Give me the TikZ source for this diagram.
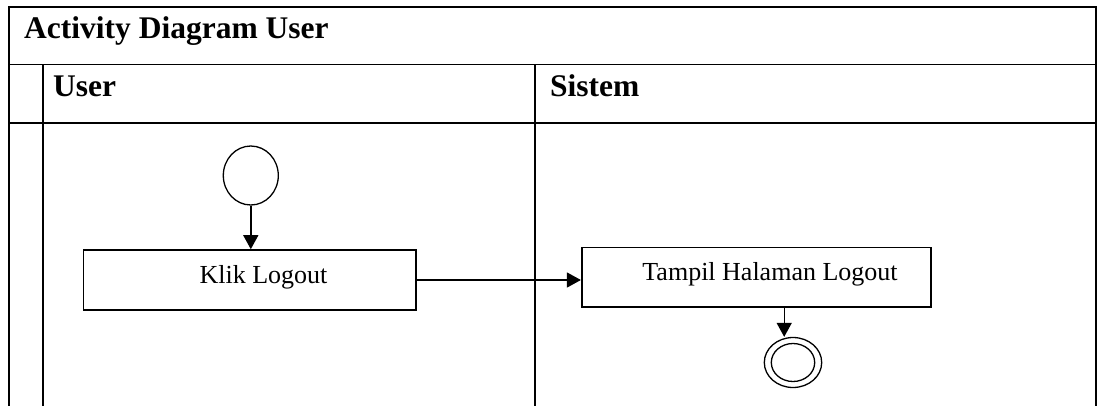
\documentclass[tikz,border=0pt]{standalone}
\usepackage{fontspec}
\setmainfont{Liberation Serif}
\usetikzlibrary{shapes.geometric,arrows.meta}
\tikzset{
  tline/.style={line width=1.8pt},
  hdr/.style={font=\fontsize{31.5}{36}\selectfont\bfseries, inner sep=0pt, anchor=base west},
  actbox/.style={draw, line width=1.6pt, minimum width=332.7pt, minimum height=60pt, inner sep=0pt,
    font=\fontsize{26}{30}\selectfont, text height=18pt, text depth=12pt},
  arr/.style={line width=1.4pt, -{Triangle[length=14pt,width=15pt]}},
  initnode/.style={ellipse, draw, line width=1.3pt, minimum width=55pt, minimum height=59pt, inner sep=0pt},
  finouter/.style={ellipse, draw, line width=1.3pt, minimum width=57.4pt, minimum height=50pt, inner sep=0pt},
  fininner/.style={ellipse, draw, line width=1.3pt, minimum width=43.4pt, minimum height=38pt, inner sep=0pt}
}
\begin{document}
\begin{tikzpicture}[x=1pt,y=-1pt]
\useasboundingbox (0,0) rectangle (1097,405);
% table frame
\draw[tline] (8.7,408) -- (8.7,6.7) -- (1095.7,6.7) -- (1095.7,408);
\draw[tline] (8.7,64.5) -- (1095.7,64.5);
\draw[tline] (8.7,122.7) -- (1095.7,122.7);
\draw[tline] (42.7,64.5) -- (42.7,408);
\draw[tline] (535,64.5) -- (535,408);
% headers
\node[hdr] (title) at (24,38) {Activity Diagram User};
\node[hdr] (huser) at (53,96.7) {User};
\node[hdr] (hsis) at (550,96.7) {Sistem};
% activity nodes
\node[initnode] (start) at (250.8,175.5) {};
\node[actbox] (klik) at (249.7,280) {\hspace*{27.6pt}Klik Logout};
\node[actbox, minimum width=349pt, minimum height=59.4pt] (tampil) at (756.2,277) {\hspace*{27.6pt}Tampil Halaman Logout};
\node[finouter] (endo) at (793,362.5) {};
\node[fininner] (endi) at (793,362.5) {};
% connectors
\draw[arr] (start.south) -- (start.south |- klik.north);
\draw[arr] (klik.east) -- (klik.east -| tampil.west);
\draw[arr] ([xshift=28pt]tampil.south) -- ([xshift=28pt]tampil.south |- endo.north);
\end{tikzpicture}
\end{document}
